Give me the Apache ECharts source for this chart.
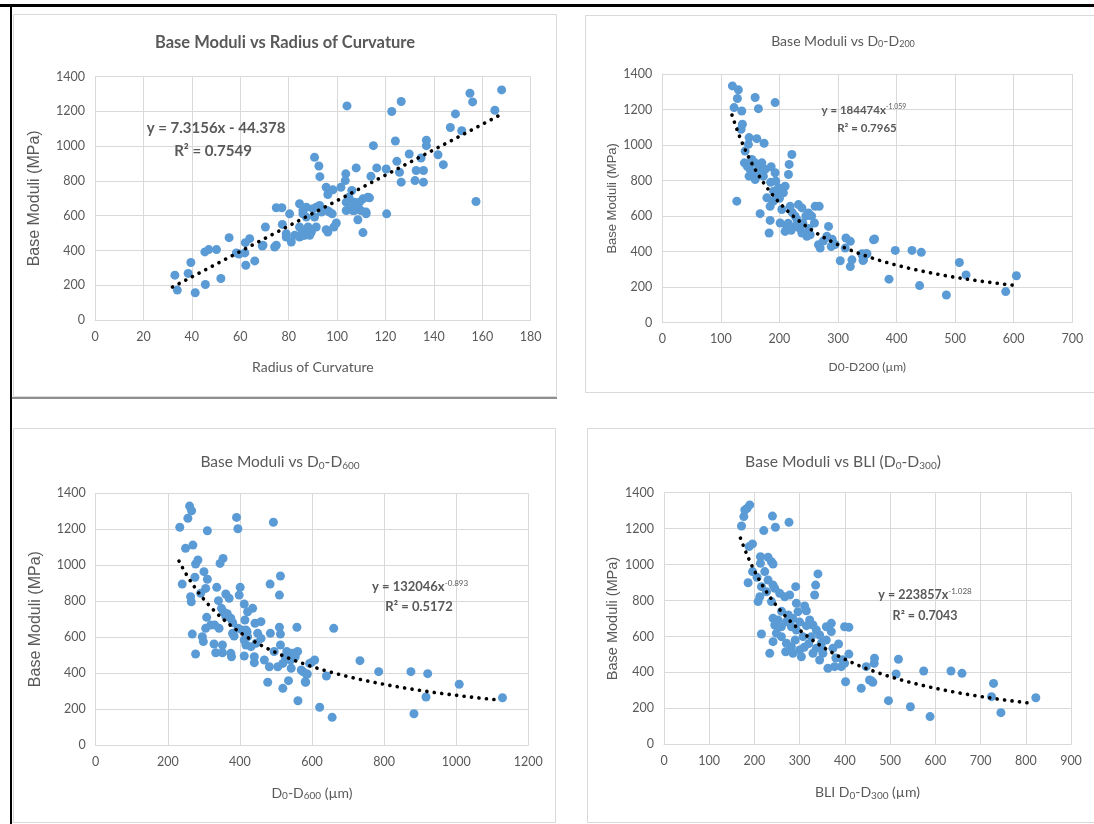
<!DOCTYPE html>
<html><head><meta charset="utf-8">
<script src="https://cdn.jsdelivr.net/npm/echarts@6/dist/echarts.min.js"></script>
<style>html,body{margin:0;padding:0;background:#fff}#c{width:1094px;height:824px}</style>
</head><body><div id="c"></div>
<script>
// ---------- DATA ----------
const radiusPoints = [[33,258],[34,172],[38.5,268],[39.6,331],[41.4,157],[45.4,392],[45.6,204],[47,405],[50.2,405],[52,239],[55.4,474],[58.4,386],[59.5,380],[61.9,386],[62.1,445],[62.3,315],[63.9,468],[66,340],[69.1,426],[69.4,430],[70.4,535],[74.2,420],[74.9,646],[74.9,430],[77.2,646],[77.4,550],[79,497],[79,477],[80.4,611],[81.1,449],[82.5,487],[84.5,669],[84.5,477],[85.9,487],[86.6,487],[88,535],[85.9,630],[85.9,611],[87.3,592],[87.3,649],[90,640],[90.7,592],[91.4,649],[92.8,659],[84.5,535],[87.3,516],[89.4,506],[91.4,535],[93.5,621],[95.9,630],[96.9,621],[98,611],[98.7,535],[99.7,558],[95.5,520],[96.2,506],[88.7,487],[85.2,493],[90.7,936],[92.5,886],[92.9,825],[95.5,764],[98.3,749],[96.2,722],[101.6,764],[103.6,841],[103.4,802],[104.1,1232],[106.1,745],[107.9,875],[103.8,678],[104.9,707],[107.2,678],[108.6,649],[110.7,697],[112.7,707],[106.5,630],[109.8,630],[112,621],[109.3,678],[105.2,659],[107.2,630],[103.8,630],[112,611],[108.6,577],[110.7,503],[113.4,703],[114,827],[115,1003],[116.4,875],[120.3,869],[120.5,611],[122.6,1200],[124.1,1030],[124.7,913],[125.8,850],[126.5,793],[126.5,1257],[129.8,955],[132.2,802],[132.7,860],[134.7,932],[135.7,860],[135.7,793],[136.9,1035],[136.9,1003],[141.7,951],[143.9,894],[146.8,1108],[148.9,1186],[151.5,1089],[154.9,1305],[156,1255],[157.4,682],[165.2,1207],[168,1324]];

const d200Points = [[119.7,1333],[129.9,1311],[128.2,1262],[122.6,1211],[135.7,1192],[158.5,1268],[164.1,1205],[192.6,1239],[136.8,1117],[134.5,1089],[148.2,1042],[147,1004],[161.4,1036],[173.8,1010],[141.4,966],[140.2,900],[152.8,919],[158.5,900],[164.1,863],[149.9,863],[148.2,825],[158.5,806],[175.6,863],[172.6,825],[185.8,878],[221.2,947],[216.6,891],[215.4,834],[192.6,844],[193.8,797],[198.3,759],[178.5,703],[189.7,684],[184.1,655],[209.7,768],[206.8,731],[127.2,684],[167,614],[184.1,576],[182.4,505],[204.1,637],[218.3,655],[232.5,665],[238.3,646],[226.8,599],[201.2,561],[212.6,542],[209.7,514],[249.6,618],[261,655],[267.9,655],[259.8,561],[226.8,542],[238.3,505],[246.8,486],[252.5,495],[266.7,439],[269.6,420],[283.8,542],[281,486],[288.4,429],[313.5,477],[321,458],[312.3,420],[303.8,349],[321,316],[323.8,354],[340.9,382],[343.6,354],[347.7,388],[360.7,467],[362.4,471],[340.9,388],[342.6,350],[349.4,388],[397.8,407],[387,245],[426.3,407],[442.2,396],[439.3,209],[485,156],[507.2,339],[518.6,269],[586.3,175],[604.6,264],[155,840],[162,830],[145,880],[170,900],[195,720],[200,700],[190,740],[185,790],[222,620],[230,580],[240,560],[245,600],[235,530],[250,530],[255,600],[215,560],[220,520],[275,460],[290,470],[295,440]];

const d600Points = [[260.4,1329],[266,1303],[255.7,1261],[233.3,1211],[309.8,1192],[390.7,1266],[394.4,1203],[492.9,1239],[269.6,1112],[249.2,1094],[283.6,1029],[277.1,1007],[353.3,1038],[345,1010],[300.3,964],[309.8,922],[275.2,933],[305,871],[240,895],[335.7,877],[263.2,825],[265.1,797],[291.1,844],[360.9,840],[370.1,816],[400.8,877],[398,834],[340.5,803],[348.9,760],[412,784],[435.4,760],[421.4,741],[483.7,895],[512.4,940],[509.6,834],[307.8,710],[319,667],[305,649],[330.2,667],[342.2,649],[360.9,714],[374.8,705],[413.9,695],[441.8,677],[458.5,686],[267.9,617],[295.8,602],[298.6,575],[328.2,562],[351.6,556],[333,513],[351.6,513],[277.1,506],[376.7,491],[374.8,510],[484.5,621],[509.6,655],[512.4,617],[512.4,556],[412,495],[440,491],[440,458],[467.8,473],[481.7,435],[505,435],[519.1,454],[542.3,427],[540.3,473],[525.5,491],[553.4,491],[558.2,655],[477.2,349],[534.8,358],[519.1,315],[561,246],[570.2,417],[584.2,395],[582.3,349],[593.4,454],[607.3,473],[598,458],[574.9,408],[587,395],[581.4,352],[640,384],[660.3,649],[621.3,210],[655.9,154],[733,469],[785,408],[874.4,408],[920.9,397],[916.2,267],[882.8,174],[1008.4,338],[1128.4,263],[379.6,621],[384,606],[416.7,640],[421.4,602],[449.3,621],[458.6,593],[444.6,566],[430.7,547],[412,584],[416.7,556],[355,740],[365,730],[380,680],[395,650],[405,640],[420,630],[495,520],[530,520],[545,510],[560,520]];

const bliPoints = [[189.7,1332],[183.8,1313],[178.7,1304],[176.5,1267],[171.4,1215],[239.8,1270],[246.4,1208],[220.6,1189],[276.4,1235],[195.7,1115],[188.2,1100],[213.3,1044],[213.3,1007],[230.1,1041],[237.6,1016],[241.1,1003],[195.7,961],[205.8,929],[222.8,961],[186,899],[215.5,877],[230.1,914],[241.1,886],[211.8,821],[208,794],[226.6,849],[244.9,868],[340.4,948],[335.3,886],[333.1,831],[291.2,877],[255.9,840],[266.9,821],[278,831],[237.6,794],[292.7,785],[311,770],[314.8,743],[296.3,738],[241.1,701],[252.1,692],[244.9,664],[259.6,654],[270.7,682],[248.6,618],[241.1,571],[259.6,599],[281.7,654],[292.7,636],[307.3,599],[215.5,614],[233.8,506],[270.7,562],[269.1,515],[281.7,543],[285.2,506],[303.8,487],[300,525],[322.1,692],[329.4,664],[336.9,636],[325.8,599],[344.1,608],[358.9,654],[370,673],[370,627],[358.9,580],[347.9,562],[336.9,534],[351.4,506],[329.4,506],[344.1,469],[399.3,654],[408.8,651],[386,558],[373.5,534],[362.5,423],[377.2,432],[392,432],[399.3,451],[408.8,502],[401.5,348],[436.1,312],[447.2,432],[454.4,358],[461.7,345],[465.5,479],[464.8,451],[458.2,354],[518.4,473],[513.3,391],[496.4,243],[544.9,209],[574.3,408],[588.3,154],[634.6,408],[658.9,395],[728.7,339],[724.3,265],[745,176],[822.2,259],[260,740],[275,720],[285,700],[300,680],[315,660],[320,560],[310,540],[290,580],[350,530],[380,480],[395,470]];

// trendline equations (as displayed in the chart)
const trend1 = {type:'linear', a:7.3156, b:-44.378, from:32, to:168};
const trend2 = {type:'power', a:184474, b:-1.059, from:119, to:605};
const trend3 = {type:'power', a:132046, b:-0.893, from:231, to:1120};
const trend4 = {type:'power', a:223857, b:-1.028, from:169, to:812};

// axis ranges
const xRange1 = {min:0, max:180, interval:20};
const xRange2 = {min:0, max:700, interval:100};
const xRange3 = {min:0, max:1200, interval:200};
const xRange4 = {min:0, max:900, interval:100};
const yRange = {min:0, max:1400, interval:200};

// ---------- STYLE ----------
const NARROW = "Lato,'Noto Sans',sans-serif";
const SANS = "'Liberation Sans',Arial,sans-serif";
const GRAY = '#595959';
const GRID = '#d9d9d9';
const BLUE = '#5B9BD5';

function trendData(t){
  const out=[]; const n=80;
  for(let i=0;i<=n;i++){
    const x=t.from+(t.to-t.from)*i/n;
    const y = t.type==='linear' ? t.a*x+t.b : t.a*Math.pow(x,t.b);
    out.push([x,y]);
  }
  return out;
}

const panels = [
  {grid:{left:95,top:76.7,width:435.7,height:243.3}, xr:xRange1, pts:radiusPoints, tr:trend1,
   xname:'Radius of Curvature', xgap:40, yname:'Base Moduli (MPa)', ygap:52, yfs:16, xfs:14},
  {grid:{left:662.3,top:74,width:410,height:248.7}, xr:xRange2, pts:d200Points, tr:trend2,
   xname:'D0-D200 (µm)', xgap:38, yname:'Base Moduli (MPa)', ygap:40, yfs:13, xfs:12},
  {grid:{left:95.7,top:493.3,width:432.6,height:251.7}, xr:xRange3, pts:d600Points, tr:trend3,
   xname:'{t|D}{s|0}{t|-D}{s|600}{t| (µm)}', xgap:40, yname:'Base Moduli (MPa)', ygap:52, yfs:16, xfs:14},
  {grid:{left:664,top:492.7,width:407,height:251.6}, xr:xRange4, pts:bliPoints, tr:trend4,
   xname:'{t|BLI D}{s|0}{t|-D}{s|300}{t| (µm)}', xgap:40, yname:'Base Moduli (MPa)', ygap:44, yfs:14.5, xfs:14}
];

const grids=[], xAxes=[], yAxes=[], series=[];
panels.forEach((p,i)=>{
  grids.push(Object.assign({containLabel:false, show:false}, p.grid));
  xAxes.push({type:'value', gridIndex:i, min:p.xr.min, max:p.xr.max, interval:p.xr.interval,
    axisLine:{show:true, lineStyle:{color:GRID, width:1}}, axisTick:{show:false},
    splitLine:{show:true, lineStyle:{color:GRID, width:1}},
    axisLabel:{color:GRAY, fontSize:12.5, fontFamily:NARROW, margin:10, formatter:(v)=>String(v)},
    name:p.xname, nameLocation:'middle', nameGap:p.xgap,
    nameTextStyle:{color:GRAY, fontSize:p.xfs, fontFamily:NARROW,
      rich:{t:{fontSize:p.xfs, fontFamily:NARROW, color:GRAY}, s:{fontSize:10, fontFamily:NARROW, color:GRAY, padding:[6,0,0,0]}}}
  });
  yAxes.push({type:'value', gridIndex:i, min:yRange.min, max:yRange.max, interval:yRange.interval,
    axisLine:{show:true, lineStyle:{color:GRID, width:1}}, axisTick:{show:false},
    splitLine:{show:true, lineStyle:{color:GRID, width:1}},
    axisLabel:{color:GRAY, fontSize:12.5, fontFamily:NARROW, margin:10, formatter:(v)=>String(v)},
    name:p.yname, nameLocation:'middle', nameGap:p.ygap,
    nameTextStyle:{color:GRAY, fontSize:p.yfs, fontFamily:SANS}
  });
  series.push({type:'scatter', xAxisIndex:i, yAxisIndex:i, data:p.pts, symbolSize:9,
    itemStyle:{color:BLUE, opacity:1}, z:2, silent:true});
  series.push({type:'line', xAxisIndex:i, yAxisIndex:i, data:trendData(p.tr), showSymbol:false, symbol:'none',
    lineStyle:{color:'#000', width:3.6, type:[0.1,7.4], cap:'round'}, z:3, silent:true});
});

function txt(x,y,text,size,weight,rich){
  return {type:'text', x:x, y:y, z:10, style:{text:text, fill:GRAY, font:weight+' '+size+'px '+NARROW,
    align:'center', verticalAlign:'middle', rich:rich||{}}};
}
const subRich = (fs)=>({t:{fontSize:fs, fontFamily:NARROW, fill:GRAY, fontWeight:'normal'},
  s:{fontSize:Math.round(fs*0.62), fontFamily:NARROW, fill:GRAY, padding:[fs*0.45,0,0,0]}});
const eqRich = (fs)=>({e:{fontSize:fs, fontFamily:NARROW, fill:GRAY, fontWeight:'bold'},
  p:{fontSize:Math.round(fs*0.62), fontFamily:NARROW, fill:GRAY, fontWeight:'normal', padding:[0,0,fs*0.55,0]}});

const graphics = [
  // panel frames
  {type:'rect', shape:{x:13.5,y:14.5,width:543,height:382}, style:{fill:null, stroke:GRID, lineWidth:1}},
  {type:'rect', shape:{x:585.5,y:15.5,width:510,height:377}, style:{fill:null, stroke:GRID, lineWidth:1}},
  {type:'rect', shape:{x:13.5,y:428.5,width:542,height:394}, style:{fill:null, stroke:GRID, lineWidth:1}},
  {type:'rect', shape:{x:587.5,y:428.5,width:508,height:394}, style:{fill:null, stroke:GRID, lineWidth:1}},
  // black page frame lines
  {type:'line', shape:{x1:0,y1:5.5,x2:1094,y2:5.5}, style:{stroke:'#000', lineWidth:3}},
  {type:'line', shape:{x1:11,y1:4,x2:11,y2:824}, style:{stroke:'#000', lineWidth:2}},
  {type:'line', shape:{x1:11,y1:398,x2:557,y2:398}, style:{stroke:'#222', lineWidth:1.2}},
  // titles
  txt(285,43,'Base Moduli vs Radius of Curvature',16.5,'bold'),
  txt(843,41,'{t|Base Moduli vs D}{s|0}{t|-D}{s|200}',14,'normal',subRich(14)),
  txt(280,462,'{t|Base Moduli vs D}{s|0}{t|-D}{s|600}',15.5,'normal',subRich(15.5)),
  txt(843,462,'{t|Base Moduli vs BLI (D}{s|0}{t|-D}{s|300}{t|)}',15.7,'normal',subRich(15.7)),
  // equations
  txt(216,128,'y = 7.3156x - 44.378',15,'bold'),
  txt(213,151,'R² = 0.7549',15,'bold'),
  txt(864,110,'{e|y = 184474x}{p|-1.059}',11.5,'bold',eqRich(11.5)),
  txt(867,128,'{e|R² = 0.7965}',11.5,'bold',eqRich(11.5)),
  txt(420,587,'{e|y = 132046x}{p|-0.893}',13,'bold',eqRich(13)),
  txt(419,607,'{e|R² = 0.5172}',13,'bold',eqRich(13)),
  txt(925,595,'{e|y = 223857x}{p|-1.028}',12.5,'bold',eqRich(12.5)),
  txt(925,616,'{e|R² = 0.7043}',12.5,'bold',eqRich(12.5))
];

const chart = echarts.init(document.getElementById('c'), null, {renderer:'canvas'});
chart.setOption({animation:false, backgroundColor:'#fff', grid:grids, xAxis:xAxes, yAxis:yAxes, series:series, graphic:graphics});
</script></body></html>
